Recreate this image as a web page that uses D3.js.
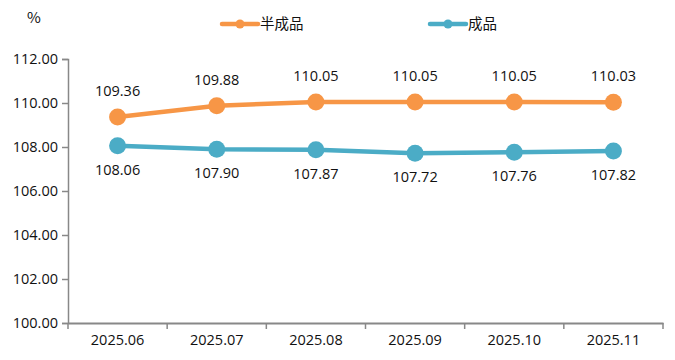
<!DOCTYPE html>
<html><head><meta charset="utf-8">
<script src="https://cdn.jsdelivr.net/npm/d3@7"></script>
<style>body{margin:0;background:#fff}svg{display:block}text{font-family:"Noto Sans CJK SC","Open Sans",sans-serif}</style>
</head><body><svg id="c" width="675" height="360"></svg>
<script>
const categories=["2025.06","2025.07","2025.08","2025.09","2025.10","2025.11"];
const semiValues=[109.36,109.88,110.05,110.05,110.05,110.03];
const finishedValues=[108.06,107.90,107.87,107.72,107.76,107.82];
const yTicks=[100,102,104,106,108,110,112];
const seriesNames=["半成品","成品"];
const colors=["#F79646","#4BACC6"];

const svg=d3.select("#c");
const m={l:68,r:12,t:59,b:37};
const W=675,H=360;
const x=d3.scaleBand().domain(categories).range([m.l,W-m.r]);
const y=d3.scaleLinear().domain([100,112]).range([H-m.b,m.t]);

const ya=svg.append("g").attr("transform",`translate(${m.l},0)`)
 .call(d3.axisLeft(y).tickValues(yTicks).tickFormat(d3.format(".2f")).tickSize(6).tickPadding(4));
ya.select(".domain").attr("stroke","#888").attr("stroke-width",1.5);
ya.selectAll(".tick line").attr("stroke","#888").attr("stroke-width",1.5);
ya.selectAll("text").attr("font-size",14.5).attr("fill","#111").style("font-family","'Open Sans',sans-serif");

const xa=svg.append("g").attr("transform",`translate(0,${H-m.b})`)
 .call(d3.axisBottom(x).tickSize(0).tickPadding(12));
xa.select(".domain").attr("stroke","#888").attr("stroke-width",2);
xa.selectAll("text").attr("font-size",14.5).attr("fill","#111").style("font-family","'Open Sans',sans-serif");
const bounds=categories.map(c=>x(c)).concat([x.range()[1]]);
svg.append("g").selectAll("line").data(bounds).join("line")
 .attr("x1",d=>d).attr("x2",d=>d).attr("y1",H-m.b).attr("y2",H-m.b+6)
 .attr("stroke","#888").attr("stroke-width",1.5);

svg.append("text").attr("x",27).attr("y",23).attr("font-size",15).attr("fill","#111").text("%");

const cx=c=>x(c)+x.bandwidth()/2;
const series=[semiValues,finishedValues];
series.forEach((vals,i)=>{
 const g=svg.append("g");
 const line=d3.line().x((d,j)=>cx(categories[j])).y(d=>y(d));
 g.append("path").datum(vals).attr("d",line).attr("fill","none").attr("stroke",colors[i]).attr("stroke-width",4.5);
 g.selectAll("circle").data(vals).join("circle").attr("cx",(d,j)=>cx(categories[j])).attr("cy",d=>y(d)).attr("r",8.5).attr("fill",colors[i]);
 g.selectAll("text").data(vals).join("text").attr("x",(d,j)=>cx(categories[j]))
  .attr("y",d=>i===0?y(d)-21:y(d)+29).attr("text-anchor","middle").attr("font-size",14.5).attr("fill","#111")
  .style("font-family","'Open Sans',sans-serif").text(d=>d.toFixed(2));
});

const lx=[222,430];
seriesNames.forEach((n,i)=>{
 const g=svg.append("g");
 g.append("line").attr("x1",lx[i]).attr("x2",lx[i]+36).attr("y1",24).attr("y2",24).attr("stroke",colors[i]).attr("stroke-width",4.5).attr("stroke-linecap","round");
 g.append("circle").attr("cx",lx[i]+18).attr("cy",24).attr("r",4.5).attr("fill",colors[i]);
 g.append("text").attr("x",lx[i]+38).attr("y",29).attr("font-size",14.5).attr("fill","#111").text(n);
});
</script></body></html>
